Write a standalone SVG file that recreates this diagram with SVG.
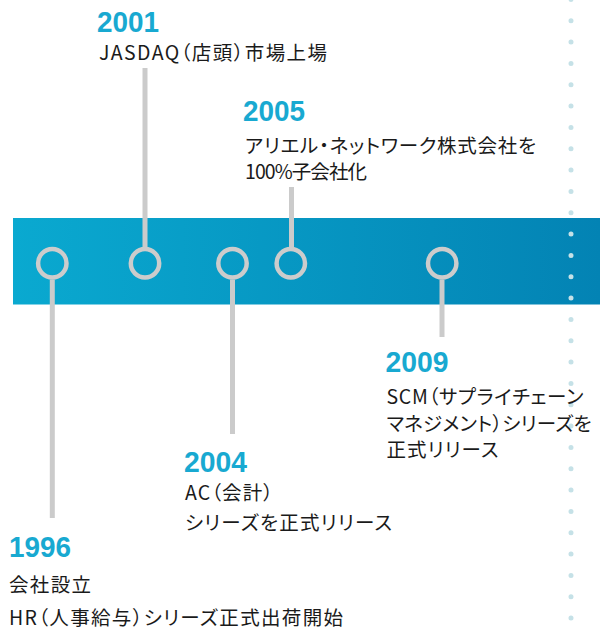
<svg xmlns="http://www.w3.org/2000/svg" width="600" height="630" viewBox="0 0 600 630">
<defs>
<linearGradient id="bandGrad" x1="0" y1="0" x2="1" y2="0">
<stop offset="0" stop-color="#0aa9d0"/>
<stop offset="1" stop-color="#0383b4"/>
</linearGradient>
<style>
.year{font-family:"Liberation Sans",Arial,sans-serif;font-weight:bold;font-size:29px;fill:#18a9d1}
.desc{font-family:"Noto Sans CJK JP","Noto Sans",sans-serif;font-size:19.5px;fill:#1a1a1a;font-feature-settings:"palt" 1}
.ring{fill:none;stroke:#cccccc;stroke-width:4.5}
.conn{stroke:#cbcbcb;stroke-width:5;fill:none}
</style>
</defs>
<rect x="0" y="0" width="600" height="630" fill="#ffffff"/>
<rect id="band" x="13" y="218" width="587" height="86.5" fill="url(#bandGrad)"/>
<line id="dots" x1="571" y1="-0.6" x2="571" y2="625" stroke="#c5e1e7" stroke-width="5" stroke-linecap="round" stroke-dasharray="0 21.333"/>
<g id="connectors">
<line class="conn" x1="52.3" y1="279.5" x2="52.3" y2="518"/>
<line class="conn" x1="145" y1="68" x2="145" y2="247"/>
<line class="conn" x1="232.5" y1="279.5" x2="232.5" y2="434"/>
<line class="conn" x1="291.5" y1="187" x2="291.5" y2="247"/>
<line class="conn" x1="442" y1="279.5" x2="442" y2="337"/>
</g>
<g id="e1996">
<circle class="ring" cx="52.3" cy="263.3" r="14.2"/>
<text class="year" x="9" y="556.5" textLength="62" lengthAdjust="spacingAndGlyphs">1996</text>
<text class="desc" x="9" y="592" textLength="82" lengthAdjust="spacing">会社設立</text>
<text class="desc" x="9" y="625" textLength="334" lengthAdjust="spacing">HR（人事給与）シリーズ正式出荷開始</text>
</g>
<g id="e2001">
<circle class="ring" cx="145" cy="263.3" r="14.2"/>
<text class="year" x="97" y="31.5" textLength="62" lengthAdjust="spacingAndGlyphs">2001</text>
<text class="desc" x="99" y="59.5" textLength="228" lengthAdjust="spacing">JASDAQ（店頭）市場上場</text>
</g>
<g id="e2004">
<circle class="ring" cx="232.5" cy="263.3" r="14.2"/>
<text class="year" x="184" y="471.5" textLength="63" lengthAdjust="spacingAndGlyphs">2004</text>
<text class="desc" x="185" y="500" textLength="88" lengthAdjust="spacing">AC（会計）</text>
<text class="desc" x="185" y="529.5" textLength="207" lengthAdjust="spacing">シリーズを正式リリース</text>
</g>
<g id="e2005">
<circle class="ring" cx="290.8" cy="263.3" r="14.2"/>
<text class="year" x="243" y="120.5" textLength="62" lengthAdjust="spacingAndGlyphs">2005</text>
<text class="desc" x="245" y="153" textLength="291" lengthAdjust="spacing">アリエル・ネットワーク株式会社を</text>
<text class="desc" x="245" y="179.3" textLength="122" lengthAdjust="spacing">100%子会社化</text>
</g>
<g id="e2009">
<circle class="ring" cx="442.2" cy="263.3" r="14.2"/>
<text class="year" x="385.5" y="371.5" textLength="63" lengthAdjust="spacingAndGlyphs">2009</text>
<text class="desc" x="386.5" y="404" textLength="197" lengthAdjust="spacing">SCM（サプライチェーン</text>
<text class="desc" x="386.5" y="430.7" textLength="205" lengthAdjust="spacing">マネジメント）シリーズを</text>
<text class="desc" x="386.5" y="457.3" textLength="112" lengthAdjust="spacing">正式リリース</text>
</g>
</svg>
